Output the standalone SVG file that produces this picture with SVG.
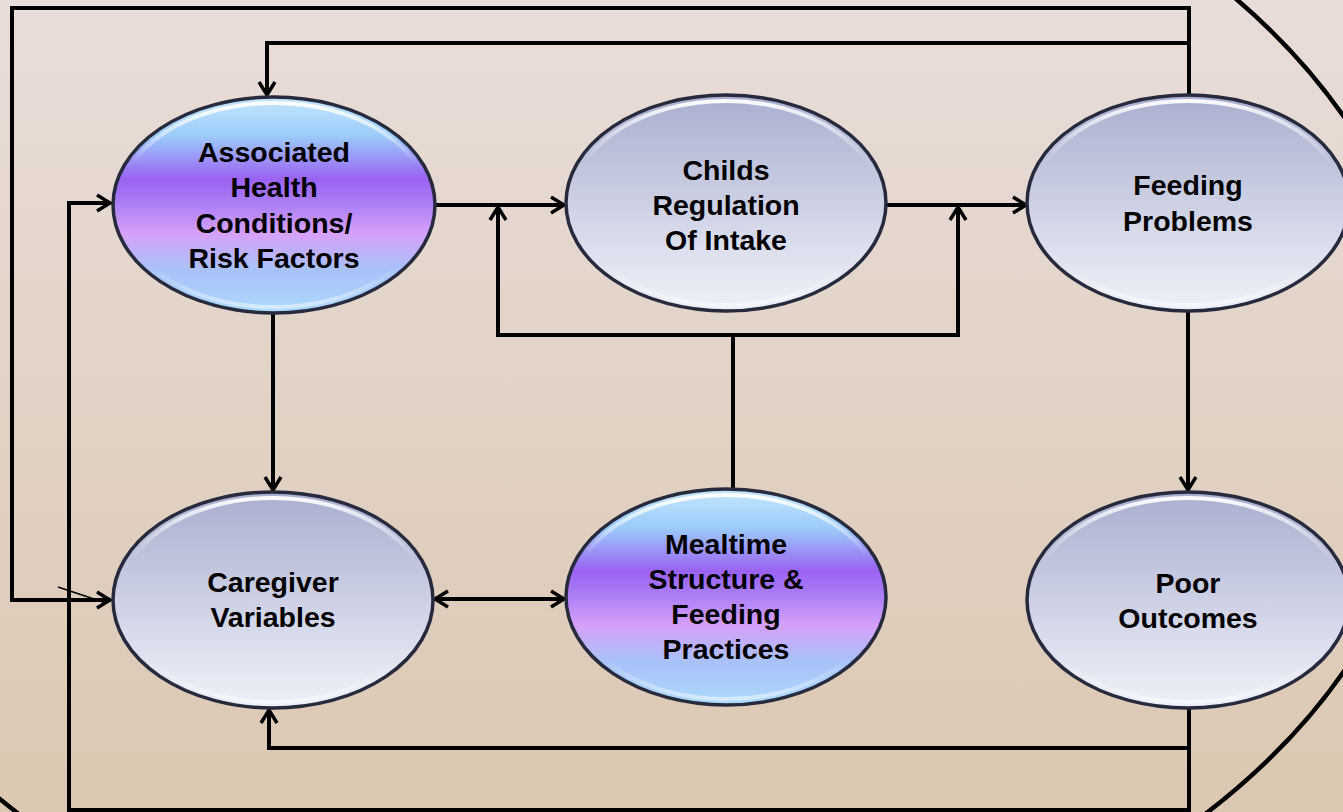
<svg xmlns="http://www.w3.org/2000/svg" width="1343" height="812" viewBox="0 0 1343 812">
  <defs>
    <linearGradient id="bg" x1="0" y1="0" x2="0" y2="1">
      <stop offset="0" stop-color="#e9ddd9"/>
      <stop offset="1" stop-color="#dbc8b2"/>
    </linearGradient>
    <linearGradient id="grey" x1="0" y1="0" x2="0" y2="1">
      <stop offset="0" stop-color="#a9afcf"/>
      <stop offset="0.45" stop-color="#c9cde2"/>
      <stop offset="0.85" stop-color="#e6e8f3"/>
      <stop offset="1" stop-color="#eef0f8"/>
    </linearGradient>
    <linearGradient id="purple" x1="0" y1="0" x2="0" y2="1">
      <stop offset="0" stop-color="#c4e6fc"/>
      <stop offset="0.18" stop-color="#9cccfa"/>
      <stop offset="0.38" stop-color="#9a62f2"/>
      <stop offset="0.5" stop-color="#ac80f6"/>
      <stop offset="0.63" stop-color="#d6a0fa"/>
      <stop offset="0.8" stop-color="#a8c2f8"/>
      <stop offset="1" stop-color="#acdafc"/>
    </linearGradient>
    <linearGradient id="gloss" x1="0" y1="0" x2="0" y2="1">
      <stop offset="0" stop-color="#ffffff" stop-opacity="0.95"/>
      <stop offset="0.3" stop-color="#ffffff" stop-opacity="0"/>
      <stop offset="0.8" stop-color="#ffffff" stop-opacity="0"/>
      <stop offset="1" stop-color="#ffffff" stop-opacity="0.5"/>
    </linearGradient>
    <marker id="arr" viewBox="0 0 20 20" markerUnits="userSpaceOnUse" markerWidth="20" markerHeight="20" refX="15" refY="10" orient="auto-start-reverse">
      <path d="M2,2 L15,10 L2,18" fill="none" stroke="#000" stroke-width="3.5" stroke-linejoin="miter"/>
    </marker>
    <style>
      .ln { fill: none; stroke: #000; stroke-width: 4; stroke-linejoin: miter; }
      .a { marker-end: url(#arr); }
      .node-g { stroke: #262a3c; stroke-width: 3.5; }
      .rim { fill: none; stroke: url(#gloss); stroke-width: 4; }
      .t { font-family: "Liberation Sans", Arial, sans-serif; font-weight: bold; font-size: 28.5px; fill: #000; text-anchor: middle; }
    </style>
  </defs>

  <rect x="0" y="0" width="1343" height="812" fill="url(#bg)"/>
  <ellipse cx="612" cy="394" rx="823" ry="606" fill="none" stroke="#000" stroke-width="4.5"/>

  <g id="connectors">
    <!-- outer top loop: Feeding -> Caregiver -->
    <path class="ln a" d="M1189,97 V8 H12 V600 H110"/>
    <line x1="58" y1="587" x2="106" y2="603" stroke="#000" stroke-width="1.5"/>
    <!-- Feeding -> Associated (top) -->
    <path class="ln a" d="M1189,43 H267 V95"/>
    <!-- Poor -> Associated (bottom loop) -->
    <path class="ln a" d="M1189,708 V810 H69 V203 H110"/>
    <!-- Poor -> Caregiver bottom -->
    <path class="ln a" d="M1189,748 H269 V710"/>
    <!-- Associated -> Childs -->
    <path class="ln a" d="M436,205 H564"/>
    <!-- Childs -> Feeding -->
    <path class="ln a" d="M886,205 H1026"/>
    <!-- Mealtime bracket -->
    <path class="ln" d="M733,490 V335"/>
    <path class="ln a" d="M733,335 H498 V207"/>
    <path class="ln a" d="M733,335 H958 V207"/>
    <!-- Associated -> Caregiver -->
    <path class="ln a" d="M273,313 V490"/>
    <!-- Feeding -> Poor -->
    <path class="ln a" d="M1188,310 V490"/>
    <!-- Caregiver <-> Mealtime -->
    <path class="ln a" d="M435,599 H564" marker-start="url(#arr)"/>
  </g>

  <g id="node-associated">
    <ellipse cx="274" cy="205" rx="161" ry="108" fill="url(#purple)" class="node-g"/>
    <ellipse cx="274" cy="205" rx="155" ry="102" class="rim"/>
    <text class="t" x="274" y="162">Associated</text>
    <text class="t" x="274" y="197">Health</text>
    <text class="t" x="274" y="233">Conditions/</text>
    <text class="t" x="274" y="268">Risk Factors</text>
  </g>

  <g id="node-childs">
    <ellipse cx="726" cy="203" rx="160" ry="108" fill="url(#grey)" class="node-g"/>
    <ellipse cx="726" cy="203" rx="154" ry="102" class="rim"/>
    <text class="t" x="726" y="180">Childs</text>
    <text class="t" x="726" y="215">Regulation</text>
    <text class="t" x="726" y="250">Of Intake</text>
  </g>

  <g id="node-feeding">
    <ellipse cx="1188" cy="203" rx="161" ry="108" fill="url(#grey)" class="node-g"/>
    <ellipse cx="1188" cy="203" rx="155" ry="102" class="rim"/>
    <text class="t" x="1188" y="195">Feeding</text>
    <text class="t" x="1188" y="231">Problems</text>
  </g>

  <g id="node-caregiver">
    <ellipse cx="273" cy="600" rx="160" ry="108" fill="url(#grey)" class="node-g"/>
    <ellipse cx="273" cy="600" rx="154" ry="102" class="rim"/>
    <text class="t" x="273" y="592">Caregiver</text>
    <text class="t" x="273" y="627">Variables</text>
  </g>

  <g id="node-mealtime">
    <ellipse cx="726" cy="597" rx="160" ry="108" fill="url(#purple)" class="node-g"/>
    <ellipse cx="726" cy="597" rx="154" ry="102" class="rim"/>
    <text class="t" x="726" y="554">Mealtime</text>
    <text class="t" x="726" y="589">Structure &amp;</text>
    <text class="t" x="726" y="624">Feeding</text>
    <text class="t" x="726" y="659">Practices</text>
  </g>

  <g id="node-poor">
    <ellipse cx="1188" cy="600" rx="161" ry="108" fill="url(#grey)" class="node-g"/>
    <ellipse cx="1188" cy="600" rx="155" ry="102" class="rim"/>
    <text class="t" x="1188" y="593">Poor</text>
    <text class="t" x="1188" y="628">Outcomes</text>
  </g>
</svg>
